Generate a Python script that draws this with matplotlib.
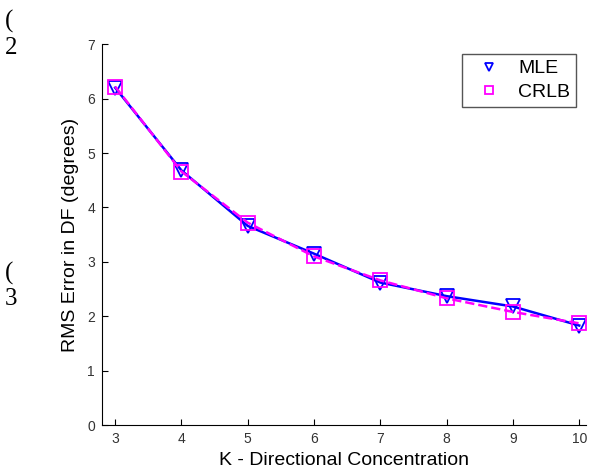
import matplotlib.pyplot as plt

k = [3, 4, 5, 6, 7, 8, 9, 10]
mle = [6.20, 4.68, 3.66, 3.15, 2.62, 2.37, 2.18, 1.83]
crlb = [6.22, 4.66, 3.72, 3.10, 2.66, 2.33, 2.08, 1.87]

plt.rcParams['font.family'] = ['Liberation Sans', 'DejaVu Sans']

fig = plt.figure(figsize=(5.96, 4.75), dpi=100)
ax = fig.add_axes([0.171, 0.105, 0.812, 0.802])

ax.plot(k, mle, color='blue', lw=1.8, marker='v', ms=10, mfc='none', mew=1.3, label='MLE')
ax.plot(k, crlb, color='magenta', lw=1.8, ls='--', marker='s', ms=10, mfc='none', mew=1.3, label='CRLB')

ax.set_xlim(2.8, 10.1)
ax.set_ylim(0, 7)
ax.set_xticks(k)
ax.set_yticks(range(8))
ax.spines['top'].set_visible(False)
ax.spines['right'].set_visible(False)
ax.tick_params(direction='in', labelsize=10, labelcolor='#333333', length=4, pad=5)
ax.set_xlabel('K - Directional Concentration', fontsize=14, labelpad=4)
ax.set_ylabel('RMS Error in DF (degrees)', fontsize=14, labelpad=6)

leg = ax.legend(loc='upper right', fontsize=14, handlelength=2.2, fancybox=False,
                framealpha=1, edgecolor='#555555', borderpad=0.3, labelspacing=0.3,
                handletextpad=0.4)
for h in leg.legend_handles:
    h.set_linestyle('none')
    h.set_markersize(6)

# stray document fragments at left edge
for x, y, s in [(0.008, 0.955, '('), (0.008, 0.900, '2'), (0.008, 0.425, '('), (0.008, 0.370, '3')]:
    fig.text(x, y, s, fontsize=18, family='Liberation Serif', va='center')

fig.savefig('out.png', dpi=100)
